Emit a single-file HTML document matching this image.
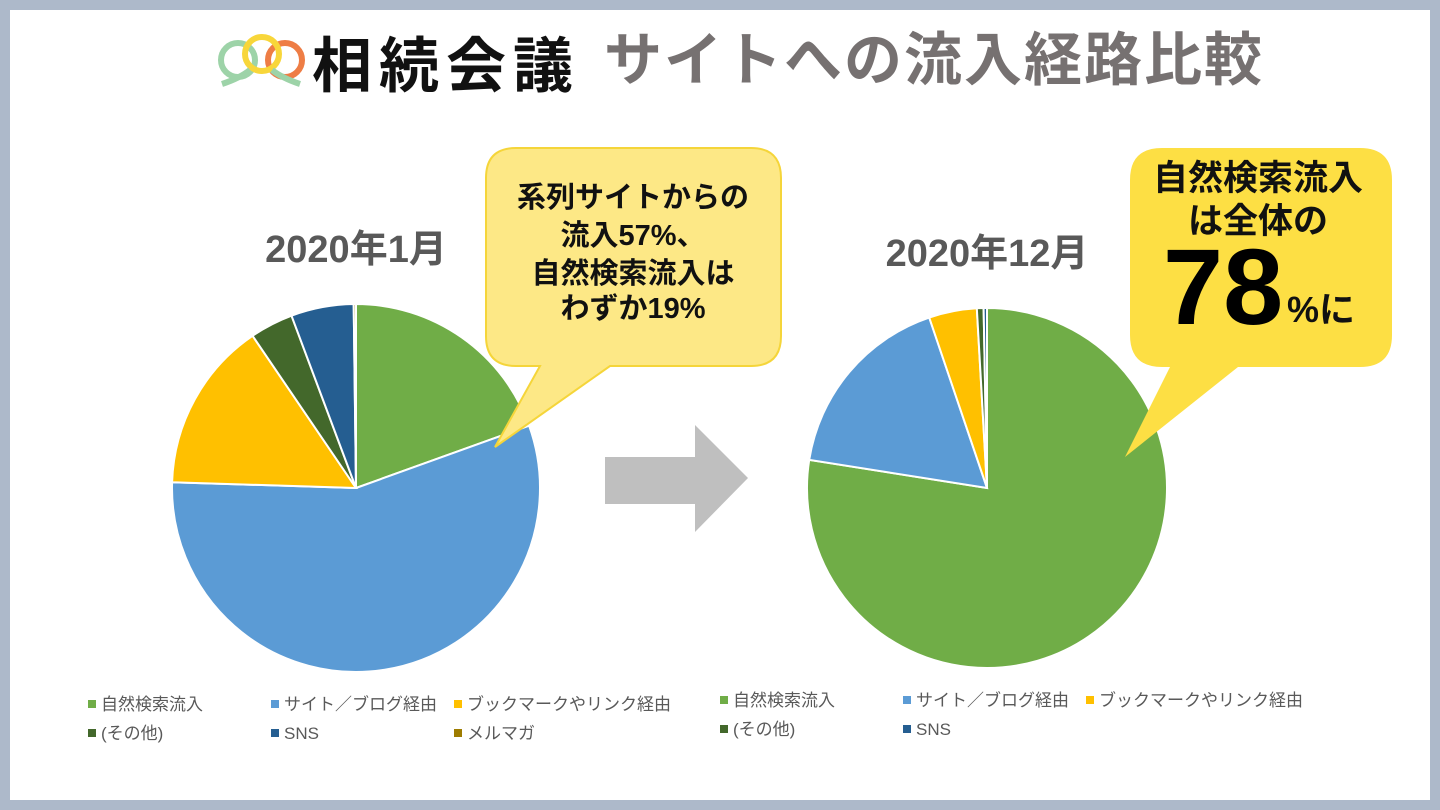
<!DOCTYPE html>
<html><head><meta charset="utf-8"><style>
body{margin:0;width:1440px;height:810px;overflow:hidden;background:#adb9ca;font-family:"Liberation Sans","Noto Sans CJK JP",sans-serif}
svg{display:block}
</style></head><body>
<svg id="s" width="1440" height="810" xmlns="http://www.w3.org/2000/svg">
<rect x="10" y="10" width="1420" height="790" fill="#fff"/>
<g fill="none" stroke-width="6">
<circle cx="238" cy="60" r="17" stroke="#9dd3a8"/>
<circle cx="285" cy="60" r="17" stroke="#ee7d45"/>
<circle cx="262" cy="54" r="17" stroke="#f8d63a"/>
<path d="M222 84 Q240 78 250 70 M300 84 Q282 78 272 70" stroke="#9dd3a8"/>
</g>
<text x="312" y="87" font-size="60" font-weight="bold" fill="#111" letter-spacing="7">相続会議</text>
<text x="604" y="80" font-size="58" font-weight="bold" fill="#767171" letter-spacing="2">サイトへの流入経路比較</text>
<text x="356" y="262" text-anchor="middle" font-size="38" font-weight="bold" fill="#595959">2020年1月</text>
<text x="987" y="266" text-anchor="middle" font-size="38" font-weight="bold" fill="#595959">2020年12月</text>
<g id="p1"></g><g id="p2"></g>
<polygon points="605,457 695,457 695,425 748,478 695,532 695,504 605,504" fill="#bfbfbf"/>
<g>
<path d="M516 148 H751 Q781 148 781 178 V336 Q781 366 751 366 H610 L495 447 L540 366 H516 Q486 366 486 336 V178 Q486 148 516 148 Z" fill="#fde886" stroke="#f5d53a" stroke-width="2"/>
<text font-size="29" font-weight="bold" fill="#111" text-anchor="middle"><tspan x="633" y="207">系列サイトからの</tspan><tspan x="633" y="245">流入57%、</tspan><tspan x="633" y="283">自然検索流入は</tspan><tspan x="633" y="318">わずか19%</tspan></text>
</g>
<g>
<path d="M1162 148 H1360 Q1392 148 1392 180 V335 Q1392 367 1360 367 H1238 L1125 457 L1170 367 H1162 Q1130 367 1130 335 V180 Q1130 148 1162 148 Z" fill="#fddf44"/>
<text font-size="35" font-weight="bold" fill="#111" text-anchor="middle"><tspan x="1258" y="190">自然検索流入</tspan><tspan x="1258" y="233">は全体の</tspan></text>
<text x="1163" y="324" font-size="108" font-weight="bold" fill="#000">78</text>
<text x="1287" y="322" font-size="36" font-weight="bold" fill="#111">%に</text>
</g>
<g id="l1"></g><g id="l2"></g>
</svg>
<script>
const cats=["自然検索流入","サイト／ブログ経由","ブックマークやリンク経由","(その他)","SNS","メルマガ"];
const colors=["#70ad47","#5b9bd5","#ffc000","#43682b","#255e91","#9e7c00"];
const jan=[19.5,56,15,3.8,5.5,0.2];
const dec=[77.5,17.3,4.3,0.6,0.3];
const NS="http://www.w3.org/2000/svg";
function pie(g,vals,cx,cy,r,nm){
 const tot=vals.reduce((a,b)=>a+b,0);let a=0;
 vals.forEach((v,i)=>{
  const a0=a/tot*2*Math.PI;a+=v;const a1=a/tot*2*Math.PI;
  const x0=cx+r*Math.sin(a0),y0=cy-r*Math.cos(a0),x1=cx+r*Math.sin(a1),y1=cy-r*Math.cos(a1);
  const p=document.createElementNS(NS,"path");
  p.setAttribute("d",`M${cx} ${cy} L${x0} ${y0} A${r} ${r} 0 ${a1-a0>Math.PI?1:0} 1 ${x1} ${y1} Z`);
  p.setAttribute("fill",colors[i]);p.setAttribute("stroke","#fff");p.setAttribute("stroke-width","2");
  
  
  g.appendChild(p);
 });
}
function legend(g,n,x,y,nm){
 for(let i=0;i<n;i++){
  const cx=x+(i%3)*183,cy=y+Math.floor(i/3)*29;
  const r=document.createElementNS(NS,"rect");
  r.setAttribute("x",cx);r.setAttribute("y",cy-10);r.setAttribute("width",8);r.setAttribute("height",8);r.setAttribute("fill",colors[i]);
  
  
  g.appendChild(r);
  const t=document.createElementNS(NS,"text");
  t.setAttribute("x",cx+13);t.setAttribute("y",cy);t.setAttribute("font-size","17");t.setAttribute("fill","#595959");
  t.textContent=cats[i];
  
  
  g.appendChild(t);
 }
}
pie(document.getElementById("p1"),jan,356,488,184,"jan");
pie(document.getElementById("p2"),dec,987,488,180,"dec");
legend(document.getElementById("l1"),jan.length,88,710,"jan");
legend(document.getElementById("l2"),dec.length,720,706,"dec");
</script>
</body></html>
